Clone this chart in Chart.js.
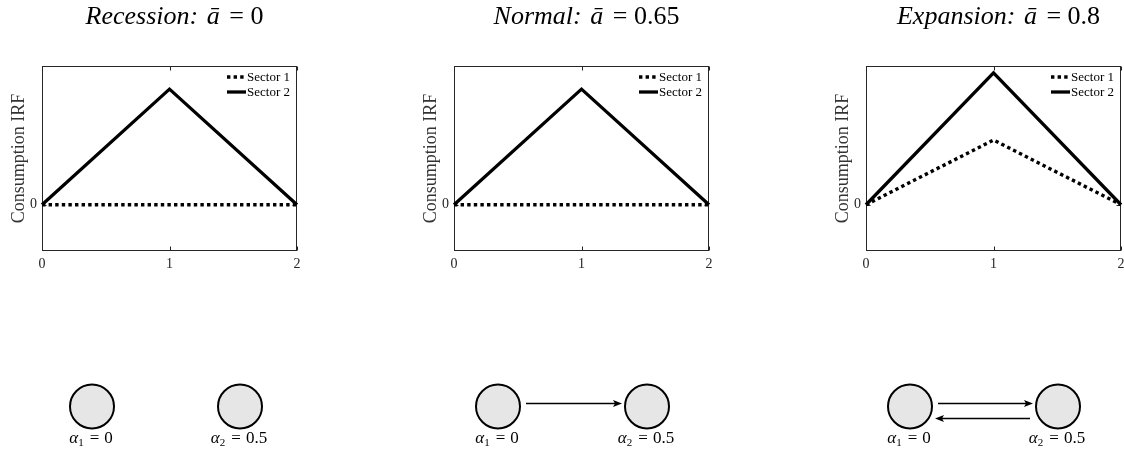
<!DOCTYPE html>
<html><head><meta charset="utf-8">
<script src="https://cdn.jsdelivr.net/npm/chart.js@4.4.1/dist/chart.umd.min.js"></script>
<style>
html,body{margin:0;padding:0;background:#fff;overflow:hidden;width:1124px;height:451px;position:relative}
canvas{position:absolute}
</style></head><body>
<canvas id="irf1" width="310" height="280" style="left:0px;top:0px"></canvas>
<canvas id="irf2" width="310" height="280" style="left:412px;top:0px"></canvas>
<canvas id="irf3" width="310" height="280" style="left:824px;top:0px"></canvas>
<canvas id="net1" width="228" height="91" style="left:52px;top:360px"></canvas>
<canvas id="net2" width="229" height="91" style="left:458px;top:360px"></canvas>
<canvas id="net3" width="228" height="91" style="left:870px;top:360px"></canvas>
<script>
// ---------- data ----------
const periods = [0, 1, 2];
const xTickLabels = ['0', '1', '2'];
const yTickValues = [0];
const yTickLabels = ['0'];
const seriesNames = ['Sector 1', 'Sector 2'];
const yAxisTitle = 'Consumption IRF';

const panelNames = ['Recession:', 'Normal:', 'Expansion:'];
const panelAbar = ['0', '0.65', '0.8'];

const recessionSector1 = [0, 0, 0];
const recessionSector2 = [0, 0.5, 0];
const normalSector1 = [0, 0, 0];
const normalSector2 = [0, 0.5, 0];
const expansionSector1 = [0, 0.28, 0];
const expansionSector2 = [0, 0.57, 0];

const yMin = -0.2, yMax = 0.6;

const nodeSymbols = ['α', 'α'];
const nodeSubscripts = ['1', '2'];
const nodeValues = ['0', '0.5'];
const recessionEdges = [];
const normalEdges = [[0, 1]];
const expansionEdges = [[0, 1], [1, 0]];

// ---------- helpers ----------
const SERIF = '"Liberation Serif", "DejaVu Serif", serif';
function drawSegments(ctx, segs, cx, y) {
  let total = 0;
  segs.forEach(s => { ctx.font = s.font; s.w = ctx.measureText(s.text).width + (s.gap || 0); total += s.w; });
  let x = cx - total / 2;
  ctx.textAlign = 'left';
  ctx.textBaseline = 'alphabetic';
  segs.forEach(s => { ctx.font = s.font; ctx.fillText(s.text, x + (s.pre || 0), y + (s.dy || 0)); x += s.w; });
}

const boxPlugin = {
  id: 'matBox',
  beforeDatasetsDraw(chart) {
    const {ctx, chartArea: a, scales} = chart;
    const L = Math.round(a.left) + 0.5, R = Math.round(a.right) - 0.5;
    const T = Math.round(a.top) + 0.5, B = Math.round(a.bottom) - 0.5;
    ctx.save();
    ctx.strokeStyle = '#262626';
    ctx.lineWidth = 1;
    ctx.strokeRect(L, T, R - L, B - T);
    ctx.beginPath();
    periods.forEach(v => {
      const px = Math.round(scales.x.getPixelForValue(v)) + 0.5;
      ctx.moveTo(px, B); ctx.lineTo(px, B - 4);
      ctx.moveTo(px, T); ctx.lineTo(px, T + 4);
    });
    yTickValues.forEach(v => {
      const py = Math.round(scales.y.getPixelForValue(v)) + 0.5;
      ctx.moveTo(L, py); ctx.lineTo(L + 4, py);
      ctx.moveTo(R, py); ctx.lineTo(R - 4, py);
    });
    ctx.stroke();
    ctx.restore();
  }
};

const legendPlugin = {
  id: 'matLegend',
  afterDatasetsDraw(chart) {
    const {ctx, chartArea: a} = chart;
    ctx.save();
    chart.data.datasets.forEach((ds, i) => {
      const y = a.top + 11 + i * 15;
      ctx.beginPath();
      ctx.strokeStyle = ds.borderColor;
      ctx.lineWidth = ds.borderWidth;
      ctx.lineCap = 'butt';
      ctx.setLineDash(ds.borderDash || []);
      ctx.moveTo(a.right - 70, y); ctx.lineTo(a.right - 51, y);
      ctx.stroke();
      ctx.setLineDash([]);
      ctx.fillStyle = '#000';
      ctx.font = '13px ' + SERIF;
      ctx.textAlign = 'left';
      ctx.textBaseline = 'middle';
      ctx.fillText(ds.label, a.right - 50, y + 0.5);
    });
    ctx.restore();
  }
};

const titlePlugin = {
  id: 'panelTitle',
  afterDraw(chart, args, opts) {
    const {ctx, chartArea: a} = chart;
    ctx.save();
    ctx.fillStyle = '#000';
    const it = 'italic 26px ' + SERIF, up = '26px ' + SERIF;
    drawSegments(ctx, [
      {text: opts.name + ' ', font: it, gap: 2},
      {text: 'ā', font: it, gap: 3},
      {text: ' = ' + opts.value, font: up}
    ], (a.left + a.right) / 2 + 5, 24);
    ctx.restore();
  }
};

function makeIRF(id, s1, s2, idx) {
  new Chart(document.getElementById(id), {
    type: 'line',
    data: {
      labels: periods,
      datasets: [
        {label: seriesNames[0], data: periods.map((p, i) => ({x: p, y: s1[i]})), borderColor: '#000', borderWidth: 3.4, borderDash: [3.4, 3.2], borderCapStyle: 'butt', pointRadius: 0, tension: 0, clip: false, fill: false},
        {label: seriesNames[1], data: periods.map((p, i) => ({x: p, y: s2[i]})), borderColor: '#000', borderWidth: 3.3, borderCapStyle: 'butt', pointRadius: 0, tension: 0, clip: false, fill: false}
      ]
    },
    options: {
      responsive: false, animation: false, events: [],
      layout: {autoPadding: false, padding: {top: 66, left: 0, right: 13, bottom: 0}},
      scales: {
        x: {
          type: 'linear', min: 0, max: 2,
          afterBuildTicks: ax => { ax.ticks = periods.map(v => ({value: v})); },
          afterFit: ax => { ax.height = 29; },
          ticks: {callback: (v, i) => xTickLabels[i], padding: 5, color: '#262626', font: {family: SERIF, size: 14}, maxRotation: 0},
          grid: {display: false, drawTicks: false},
          border: {display: false}
        },
        y: {
          type: 'linear', min: yMin, max: yMax,
          afterBuildTicks: ax => { ax.ticks = yTickValues.map(v => ({value: v})); },
          afterFit: ax => { ax.width = 42; },
          ticks: {callback: (v, i) => yTickLabels[i], padding: 5, color: '#262626', font: {family: SERIF, size: 14}},
          grid: {display: false, drawTicks: false},
          border: {display: false},
          title: {display: true, text: yAxisTitle, color: '#333333', font: {family: SERIF, size: 18}, padding: {top: 8, bottom: 0}}
        }
      },
      plugins: {
        legend: {display: false}, tooltip: {enabled: false},
        panelTitle: {name: panelNames[idx], value: panelAbar[idx]}
      }
    },
    plugins: [boxPlugin, legendPlugin, titlePlugin]
  });
}

const edgePlugin = {
  id: 'netEdges',
  afterDatasetsDraw(chart, args, opts) {
    const {ctx, scales} = chart;
    const yc = scales.y.getPixelForValue(0);
    ctx.save();
    ctx.strokeStyle = '#000'; ctx.fillStyle = '#000'; ctx.lineWidth = 1.5;
    opts.edges.forEach(([a, b]) => {
      const xa = scales.x.getPixelForValue(a), xb = scales.x.getPixelForValue(b);
      const dir = xb > xa ? 1 : -1;
      const y = yc + (dir > 0 ? -3 : 12);
      const x0 = xa + dir * 28, x1 = xb - dir * 25;
      ctx.beginPath();
      ctx.moveTo(x0, y); ctx.lineTo(x1 - dir * 6, y);
      ctx.stroke();
      ctx.beginPath();
      ctx.moveTo(x1, y);
      ctx.lineTo(x1 - dir * 9, y - 3.5);
      ctx.lineTo(x1 - dir * 7, y);
      ctx.lineTo(x1 - dir * 9, y + 3.5);
      ctx.closePath();
      ctx.fill();
    });
    // node labels
    ctx.fillStyle = '#000';
    nodeSymbols.forEach((sym, i) => {
      const x = scales.x.getPixelForValue(i);
      drawSegments(ctx, [
        {text: sym, font: 'italic 17px ' + SERIF},
        {text: nodeSubscripts[i], font: '11px ' + SERIF, dy: 3, gap: 1},
        {text: '=', font: '17px ' + SERIF, gap: 10, pre: 5},
        {text: nodeValues[i], font: '17px ' + SERIF}
      ], x - 1, yc + 36.5);
    });
    ctx.restore();
  }
};

function makeNet(id, edges) {
  new Chart(document.getElementById(id), {
    type: 'scatter',
    data: {datasets: [{data: nodeSymbols.map((s, i) => ({x: i, y: 0})), pointRadius: 22, pointHoverRadius: 22, backgroundColor: '#e6e6e6', borderColor: '#000', borderWidth: 2, clip: false}]},
    options: {
      responsive: false, animation: false, events: [],
      layout: {autoPadding: false, padding: {left: 40, right: 40, top: 2, bottom: 0}},
      scales: {x: {display: false, min: 0, max: 1}, y: {display: false, min: -1, max: 1}},
      plugins: {legend: {display: false}, tooltip: {enabled: false}, netEdges: {edges: edges}}
    },
    plugins: [edgePlugin]
  });
}

makeIRF('irf1', recessionSector1, recessionSector2, 0);
makeIRF('irf2', normalSector1, normalSector2, 1);
makeIRF('irf3', expansionSector1, expansionSector2, 2);
makeNet('net1', recessionEdges);
makeNet('net2', normalEdges);
makeNet('net3', expansionEdges);
</script>
</body></html>
